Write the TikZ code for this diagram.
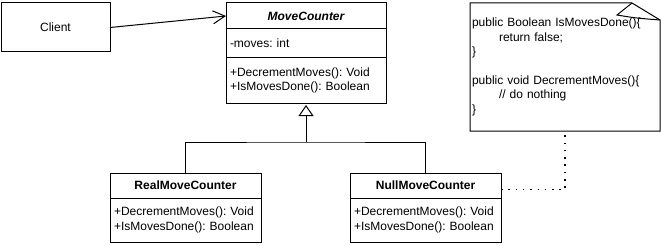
\documentclass[tikz,border=0pt]{standalone}
\usepackage{fontspec}
\setmainfont{Liberation Sans}
\usetikzlibrary{positioning,arrows.meta}
\frenchspacing

\begin{document}
\begin{tikzpicture}[x=1pt,y=1pt,node distance=0pt,line width=1pt,font=\fontsize{12}{14.4}\selectfont]
\tikzstyle{bx}=[rectangle,draw,inner sep=0pt,outer sep=0pt]
\tikzstyle{hd}=[bx,font=\fontsize{12}{14.4}\selectfont\bfseries]
\tikzstyle{bd}=[bx,align=left,inner xsep=4pt,inner ysep=0pt]
\tikzstyle{assoc}=[-{Straight Barb[length=12pt,width=13pt]}]
\tikzstyle{inherit}=[-{Triangle[open,length=11pt,width=15pt]},shorten >=2pt]
\tikzstyle{dotline}=[line width=1.5pt,dash pattern=on 1.5pt off 5.8pt]
\useasboundingbox (0,0) rectangle (661,-246);
\node[bx,minimum width=109pt,minimum height=49pt] (client) at (55.5,-27.5) {Client};
\node[hd,minimum width=160pt,minimum height=26pt] (mchead) at (306,-16) {\itshape MoveCounter};
\node[bd,text width=152pt,minimum height=29pt,below=of mchead] (mcattr) {-moves: int};
\node[bd,text width=152pt,minimum height=45pt,below=of mcattr] (mcops) {+DecrementMoves(): Void\\+IsMovesDone(): Boolean};
\node[hd,minimum width=151pt,minimum height=25pt] (realhead) at (185.5,-185.5) {RealMoveCounter};
\node[bd,text width=143pt,minimum height=44pt,below=of realhead] (realops) {+DecrementMoves(): Void\\+IsMovesDone(): Boolean};
\node[hd,minimum width=151pt,minimum height=25pt] (nullhead) at (425.5,-185.5) {NullMoveCounter};
\node[bd,text width=143pt,minimum height=44pt,below=of nullhead] (nullops) {+DecrementMoves(): Void\\+IsMovesDone(): Boolean};
\node[align=left,text width=186pt,inner xsep=2pt,outer sep=0pt,minimum height=128pt] (note) at (565,-67) {public Boolean IsMovesDone()\{\\\hspace*{27pt}return false;\\\}\\[14.4pt]public void DecrementMoves()\{\\\hspace*{27pt}// do nothing\\\}};
\draw (note.south west) -- (note.north west) -- ([xshift=-28pt]note.north east) -- ([yshift=-17pt]note.north east) -- (note.south east) -- cycle;
\draw ([xshift=-28pt]note.north east) .. controls ([xshift=-38pt,yshift=-8pt]note.north east) .. ([xshift=-43pt,yshift=-12pt]note.north east) .. controls ([xshift=-25pt,yshift=-15pt]note.north east) .. ([yshift=-17pt]note.north east);
\coordinate (jn) at (mcops.south |- 0,-142);
\draw[assoc] (client.east) -- (mchead.west);
\draw (realhead.north) |- (jn) -| (nullhead.north);
\draw[inherit] (jn) -- (mcops.south);
\draw[dotline] ([yshift=-4pt]nullhead.east) -| (note.south);
\end{tikzpicture}
\end{document}
